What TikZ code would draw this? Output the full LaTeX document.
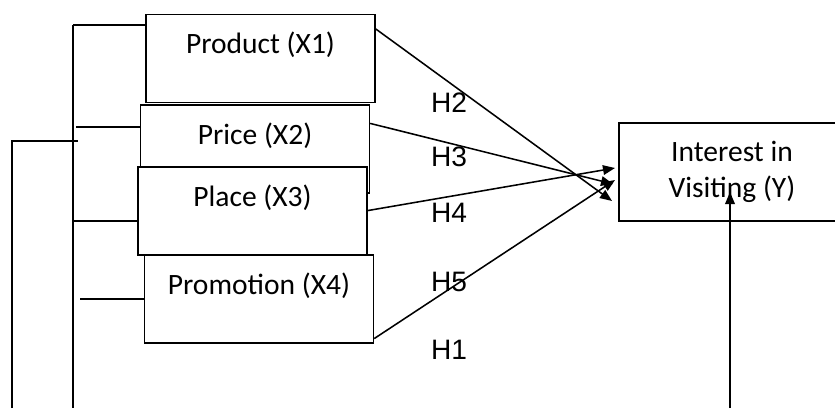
\documentclass[tikz,border=0pt]{standalone}
\usepackage{fontspec}
\setmainfont{Carlito}
\newfontfamily\hfont{Liberation Sans}
\usetikzlibrary{arrows.meta,calc}
\tikzset{
	factor/.style={draw, fill=white, line width=1.1pt, inner xsep=0pt, inner ysep=0pt, minimum width=5.72cm, minimum height=2.19cm, text height=0.97cm, text depth=1.2cm, font=\fontsize{21}{25}\selectfont},
	hyp/.style={font=\hfont\fontsize{20}{24}\selectfont, inner sep=0pt},
	link/.style={line width=1.1pt, -{Triangle[length=0.3cm, width=0.24cm]}},
	tie/.style={line width=1.1pt}
}
\begin{document}
\begin{tikzpicture}[x=0.025cm, y=-0.025cm]
	\useasboundingbox (0,0) rectangle (835,408);
	\clip (0,0) rectangle (835,408);

	\node [factor] (prod) at (260.5,58.5) {Product (X1)};
	\node [factor] (price) at (255,149) {Price (X2)};
	\node [factor] (place) at (252.5,211) {Place (X3)};
	\node [factor] (promo) at (259,299) {Promotion (X4)};
	\node [draw, line width=1.1pt, minimum width=5.65cm, minimum height=2.45cm, align=center, font=\fontsize{21}{25.5}\selectfont] (visit) at (732,172) {Interest in\\Visiting (Y)};

	\node [hyp] (h2) at (449,103) {H2};
	\node [hyp] (h3) at (449,157) {H3};
	\node [hyp] (h4) at (449,213) {H4};
	\node [hyp] (h5) at (449,282) {H5};
	\node [hyp] (h1) at (449,350) {H1};

	\coordinate (t2) at (612,201);
	\coordinate (t3) at (613,184);
	\coordinate (t4) at (615,168);
	\coordinate (t5) at (615,180);
	\draw [link] ($(prod.north east)+(0,15)$) -- (t2);
	\draw [link] ($(price.north east)+(0,19)$) -- (t3);
	\draw [link] ($(place.south east)+(0,-45)$) -- (t4);
	\draw [link] ($(promo.south east)+(0,-5)$) -- (t5);

	% lines on the left
	\coordinate (s1) at (73,25);
	\coordinate (s2) at (76,127);
	\coordinate (s3) at (73,221);
	\coordinate (s4) at (80,299);
	\draw [tie] (s1) -- (73,408);
	\draw [tie] (s1) -- (s1 -| prod.west);
	\draw [tie] (s2) -- (s2 -| price.west);
	\draw [tie] (s3) -- (s3 -| place.west);
	\draw [tie] (s4) -- (s4 -| promo.west);
	\coordinate (r1) at (12,141);
	\draw [tie] (12,408) -- (r1) -- (78,141);

	\coordinate (b1) at (730,408);
	\draw [link] (b1) -- (730,192);
\end{tikzpicture}
\end{document}
